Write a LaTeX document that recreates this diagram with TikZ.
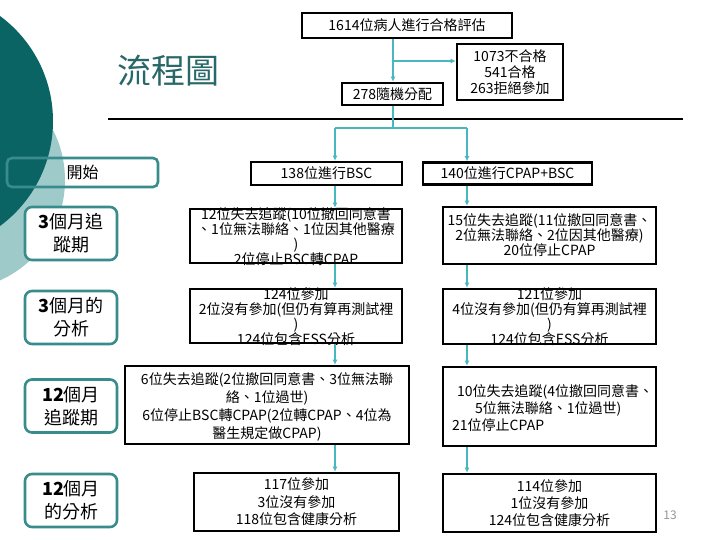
\documentclass[tikz,border=0pt]{standalone}
\usepackage{fontspec}
\setmainfont{Noto Sans CJK TC}
\usetikzlibrary{arrows.meta,calc}
\definecolor{darkc}{RGB}{10,100,100}
\definecolor{lightc}{RGB}{158,202,202}
\definecolor{lbord}{RGB}{56,140,140}
\definecolor{arrc}{RGB}{72,184,192}
\definecolor{titlec}{RGB}{40,104,104}
\definecolor{pgc}{RGB}{150,150,150}
\begin{document}
\begin{tikzpicture}[x=1pt,y=-1pt,
  box/.style={draw=black,line width=2.6pt,inner sep=0pt,align=center,font=\fontsize{14pt}{16pt}\selectfont},
  txt/.style={inner sep=0pt,align=center,font=\fontsize{14pt}{15pt}\selectfont},
  lbox/.style={draw=lbord,line width=2.6pt,rounded corners=7pt,fill=white,minimum width=92pt,minimum height=53pt,align=center,inner sep=0pt,font=\fontsize{18pt}{23pt}\selectfont},
  arr/.style={draw=arrc,line width=2pt,-{Latex[length=5pt,width=5pt]}},
  link/.style={draw=arrc,line width=1.3pt}]
\clip (0,0) rectangle (720,540);
\fill[white] (0,0) rectangle (720,540);
\fill[lightc] (-45,180) circle[radius=110pt];
\fill[darkc] (-77.5,121) circle[radius=130.5pt];

% title and rule
\node[text=titlec,font=\fontsize{34pt}{36pt}\selectfont,inner sep=0pt] (title) at (168,71) {流程圖};
\draw[line width=2pt] (108,119.5) -- (683,119.5);

% top boxes
\node[box,minimum width=210pt,minimum height=25pt] (n1614) at (407,25.5) {1614位病人進行合格評估};
\node[box,minimum width=101pt,minimum height=22pt] (n278) at (392.5,94) {278隨機分配};
\node[box,minimum width=106pt,minimum height=56pt] (n1073) at (510,72) {1073不合格\\541合格\\263拒絕參加};
\node[box,minimum width=151pt,minimum height=23pt] (n138) at (326.5,173.5) {138位進行BSC};
\node[box,minimum width=169pt,minimum height=22pt] (n140) at (507.5,173.5) {140位進行CPAP+BSC};

% left column
\node[txt] (L1t) at (296,237) {12位失去追蹤(10位撤回同意書\\、1位無法聯絡、1位因其他醫療\\)\\2位停止BSC轉CPAP};
\node[box,minimum width=212pt,minimum height=54pt] (L1) at (296,236) {};
\node[txt] (L2t) at (296,317) {124位參加\\2位沒有參加(但仍有算再測試裡\\)\\124位包含ESS分析};
\node[box,minimum width=212pt,minimum height=54pt] (L2) at (296,316) {};
\node[txt,font=\fontsize{14pt}{18pt}\selectfont] (L3t) at (267,407) {6位失去追蹤(2位撤回同意書、3位無法聯\\絡、1位過世)\\6位停止BSC轉CPAP(2位轉CPAP、4位為\\醫生規定做CPAP)};
\node[box,minimum width=284pt,minimum height=78pt] (L3) at (267,405) {};
\node[box,minimum width=205pt,minimum height=58pt,font=\fontsize{14pt}{17.5pt}\selectfont] (L4) at (296.5,502) {117位參加\\3位沒有參加\\118位包含健康分析};

% right column
\node[box,minimum width=213pt,minimum height=57pt,font=\fontsize{14pt}{15pt}\selectfont] (R1) at (549.5,235.5) {15位失去追蹤(11位撤回同意書、\\2位無法聯絡、2位因其他醫療)\\20位停止CPAP};
\node[txt] (R2t) at (549.5,317) {121位參加\\4位沒有參加(但仍有算再測試裡\\)\\124位包含ESS分析};
\node[box,minimum width=213pt,minimum height=55pt] (R2) at (549.5,316.5) {};
\node[txt,align=left,anchor=west,font=\fontsize{14pt}{17pt}\selectfont] (R3t) at (452,408) {\hspace*{5pt}10位失去追蹤(4位撤回同意書、\\\hspace*{23pt}5位無法聯絡、1位過世)\\21位停止CPAP};
\node[box,minimum width=213pt,minimum height=79pt] (R3) at (549.5,406.5) {};
\node[box,minimum width=213pt,minimum height=58pt,font=\fontsize{14pt}{17pt}\selectfont] (R4) at (549.5,503) {114位參加\\1位沒有參加\\124位包含健康分析};

% left labels
\node[lbox,fill=none,rounded corners=5pt,minimum width=151pt,minimum height=29pt,font=\fontsize{16pt}{18pt}\selectfont] (S0) at (82.5,172.5) {開始};
\node[lbox] (S1) at (71,233.5) {\textbf{3}個月追\\蹤期};
\node[lbox] (S2) at (71,317.5) {\textbf{3}個月的\\分析};
\node[lbox] (S3) at (71,406) {\textbf{12}個月\\追蹤期};
\node[lbox] (S4) at (71,500.5) {\textbf{12}個月\\的分析};

% page number
\node[text=pgc,font=\fontsize{12pt}{14pt}\selectfont,inner sep=0pt] (pg) at (670,515) {13};

% connectors
\coordinate (j1) at (393,61);
\coordinate (j2) at (393,128);
\coordinate (cl) at (335,128);
\coordinate (cr) at (467,128);
\draw[arr] (n1614.south -| j1) -- (n278.north -| j1);
\draw[arr] (j1) -- (j1 -| n1073.west);
\draw[link] (n278.south -| j2) -- (j2);
\draw[link] (cl) -- (cr);
\draw[arr] (cl) -- (cl |- n138.north);
\draw[arr] (cr) -- (cr |- n140.north);
\draw[arr] (n138.south -| cl) -- (L1.north -| cl);
\draw[arr] (L1.south -| cl) -- (L2.north -| cl);
\draw[arr] (L2.south -| cl) -- (L3.north -| cl);
\draw[arr] (L3.south -| cl) -- (L4.north -| cl);
\draw[arr] (n140.south -| cr) -- (R1.north -| cr);
\draw[arr] (R1.south -| cr) -- (R2.north -| cr);
\draw[arr] (R2.south -| cr) -- (R3.north -| cr);
\draw[arr] (R3.south -| cr) -- (R4.north -| cr);
\end{tikzpicture}
\end{document}
